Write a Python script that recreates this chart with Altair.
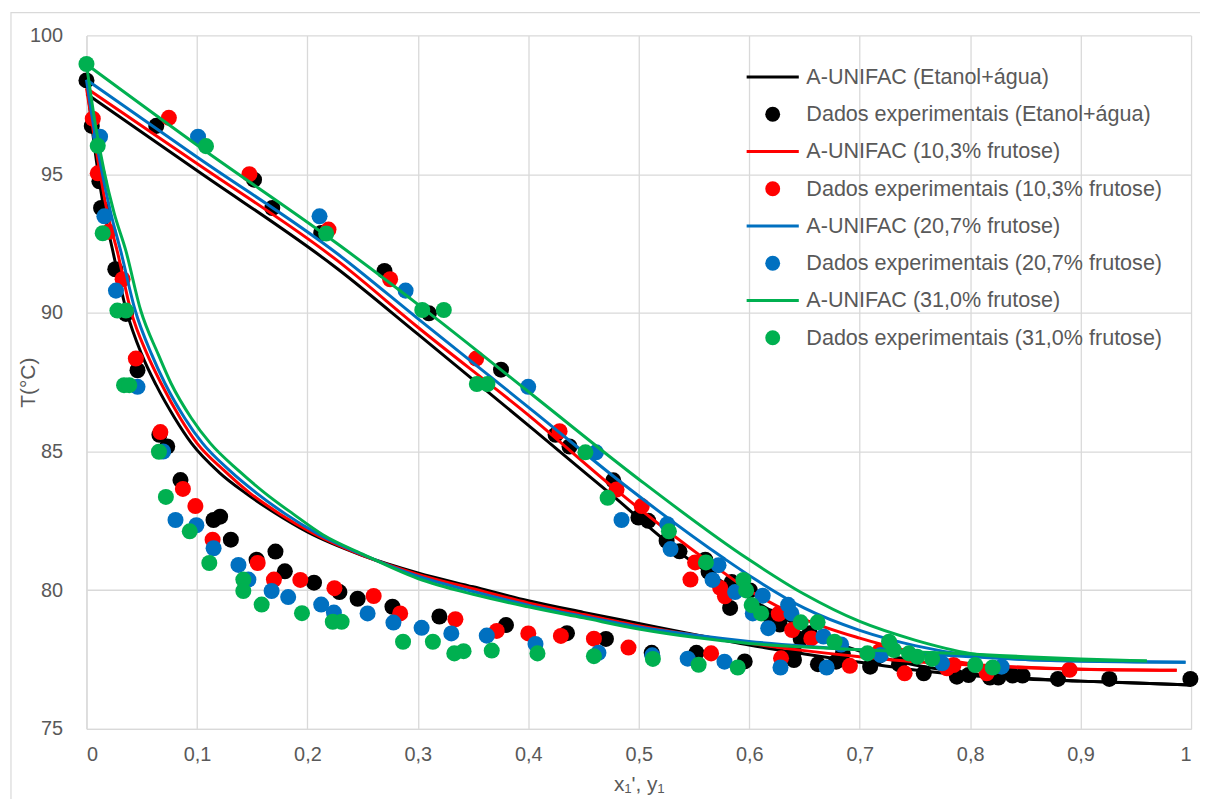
import altair as alt
import pandas as pd

# ---------------- labels ----------------
LINE_NAMES = ["A-UNIFAC (Etanol+água)", "A-UNIFAC (10,3% frutose)",
              "A-UNIFAC (20,7% frutose)", "A-UNIFAC (31,0% frutose)"]
DOT_NAMES = ["Dados experimentais (Etanol+água)", "Dados experimentais (10,3% frutose)",
             "Dados experimentais (20,7% frutose)", "Dados experimentais (31,0% frutose)"]
COLORS = ["#000000", "#ff0000", "#0070c0", "#00b050"]

x_ticks = [0, 0.1, 0.2, 0.3, 0.4, 0.5, 0.6, 0.7, 0.8, 0.9, 1.0]
y_ticks = [75, 80, 85, 90, 95, 100]

# ---------------- model curves (A-UNIFAC) ----------------
# bubble branch (T vs x1')
bub_x_0 = [0, 0.005, 0.01, 0.016, 0.024, 0.036, 0.05, 0.063, 0.08, 0.095, 0.12, 0.144, 0.17, 0.2, 0.25, 0.3, 0.35, 0.4, 0.45, 0.5, 0.55, 0.6, 0.65, 0.7, 0.75, 0.8, 0.85, 0.9, 0.95, 1.0]
bub_T_0 = [98.4, 96.7, 95.2, 93.7, 92.2, 90.1, 88.5, 87.4, 86.2, 85.3, 84.25, 83.5, 82.8, 82.1, 81.25, 80.62, 80.12, 79.62, 79.2, 78.8, 78.4, 78.02, 77.7, 77.4, 77.12, 76.92, 76.8, 76.72, 76.65, 76.58]
bub_x_1 = [0, 0.006, 0.012, 0.019, 0.028, 0.04, 0.055, 0.0675, 0.085, 0.1, 0.125, 0.148, 0.175, 0.205, 0.25, 0.3, 0.35, 0.4, 0.45, 0.5, 0.55, 0.6, 0.65, 0.7, 0.75, 0.8, 0.85, 0.9, 0.95, 0.987]
bub_T_1 = [98.1, 96.6, 95.1, 93.6, 92.2, 90.1, 88.5, 87.46, 86.2, 85.3, 84.3, 83.5, 82.75, 82.05, 81.25, 80.57, 80.05, 79.54, 79.12, 78.72, 78.38, 78.08, 77.82, 77.6, 77.42, 77.3, 77.2, 77.15, 77.12, 77.11]
bub_x_2 = [0, 0.007, 0.014, 0.022, 0.031, 0.044, 0.059, 0.071, 0.089, 0.105, 0.13, 0.154, 0.18, 0.21, 0.25, 0.3, 0.35, 0.4, 0.45, 0.5, 0.55, 0.6, 0.65, 0.7, 0.75, 0.8, 0.85, 0.9, 0.95, 0.995]
bub_T_2 = [98.4, 96.6, 95.1, 93.6, 92.23, 90.1, 88.5, 87.46, 86.2, 85.3, 84.3, 83.5, 82.75, 82.02, 81.28, 80.5, 79.95, 79.46, 79.05, 78.67, 78.38, 78.15, 77.98, 77.85, 77.72, 77.6, 77.5, 77.45, 77.42, 77.4]
bub_x_3 = [0, 0.008, 0.016, 0.025, 0.0357, 0.049, 0.065, 0.0765, 0.095, 0.112, 0.138, 0.1616, 0.187, 0.214, 0.25, 0.3, 0.35, 0.4, 0.45, 0.5, 0.55, 0.6, 0.65, 0.7, 0.75, 0.8, 0.85, 0.9, 0.96]
bub_T_3 = [98.96, 96.8, 95.1, 93.6, 92.23, 90.1, 88.5, 87.46, 86.2, 85.3, 84.3, 83.5, 82.75, 82.0, 81.3, 80.42, 79.85, 79.4, 79.0, 78.6, 78.3, 78.08, 77.95, 77.85, 77.77, 77.7, 77.6, 77.52, 77.45]

# dew branch (T vs y1)
dew_x_0 = [0, 0.1, 0.2275, 0.3, 0.405, 0.475, 0.545, 0.605, 0.65, 0.7, 0.75, 0.8, 0.85, 0.9, 0.95, 1.0]
dew_T_0 = [97.9, 95.13, 91.58, 89.23, 85.78, 83.45, 81.12, 79.6, 78.6, 77.8, 77.3, 77.0, 76.82, 76.72, 76.65, 76.58]
dew_x_1 = [0, 0.1, 0.2275, 0.3, 0.405, 0.48, 0.56, 0.605, 0.65, 0.7, 0.75, 0.8, 0.85, 0.9, 0.95, 0.987]
dew_T_1 = [98.1, 95.38, 91.87, 89.48, 86.15, 83.6, 81.12, 79.87, 78.95, 78.27, 77.75, 77.35, 77.22, 77.15, 77.12, 77.11]
dew_x_2 = [0, 0.1, 0.2275, 0.3, 0.405, 0.49, 0.578, 0.605, 0.65, 0.7, 0.75, 0.8, 0.85, 0.9, 0.95, 0.995]
dew_T_2 = [98.4, 95.62, 92.12, 89.79, 86.44, 83.7, 81.12, 80.4, 79.35, 78.55, 78.0, 77.65, 77.5, 77.44, 77.41, 77.4]
dew_x_3 = [0, 0.1, 0.2275, 0.31, 0.405, 0.5, 0.599, 0.65, 0.7, 0.75, 0.8, 0.85, 0.9, 0.96]
dew_T_3 = [98.96, 96.05, 92.48, 90.0, 87.0, 84.0, 81.12, 79.85, 78.87, 78.2, 77.72, 77.55, 77.47, 77.45]

# ---------------- experimental data ----------------
exp_x_0 = [0, 0.0048, 0.0117, 0.0132, 0.0261, 0.0357, 0.0462, 0.066, 0.0731, 0.0851, 0.115, 0.121, 0.1307, 0.154, 0.1711, 0.1796, 0.206, 0.229, 0.2455, 0.277, 0.3195, 0.3798, 0.435, 0.4703, 0.5117, 0.5522, 0.5959, 0.6405, 0.6405, 0.6622, 0.6787, 0.6847, 0.7095, 0.7161, 0.7356, 0.758, 0.788, 0.7986, 0.818, 0.8255, 0.8384, 0.8474, 0.8795, 0.926, 0.9994,
           0.0632, 0.1517, 0.1682, 0.2125, 0.2698, 0.31, 0.3753, 0.4247, 0.4373, 0.4769, 0.4997, 0.5086, 0.5252, 0.5369, 0.5602, 0.5632, 0.5842, 0.5827, 0.6007, 0.6187, 0.6277, 0.6466, 0.6547]
exp_T_0 = [98.38, 96.74, 94.74, 93.78, 91.57, 89.96, 87.93, 85.6, 85.18, 83.97, 82.53, 82.65, 81.82, 81.1, 81.39, 80.68, 80.27, 79.93, 79.69, 79.4, 79.05, 78.74, 78.45, 78.24, 77.74, 77.74, 77.43, 77.48, 77.78, 77.33, 77.42, 77.72, 77.24, 77.6, 77.33, 77.0, 76.88, 76.94, 76.85, 76.85, 76.92, 76.92, 76.8, 76.8, 76.8,
           96.74, 94.8, 93.78, 92.88, 91.51, 89.98, 87.95, 85.6, 85.18, 83.96, 82.62, 82.5, 81.78, 81.4, 81.1, 80.66, 80.29, 79.36, 79.99, 79.05, 78.76, 78.24, 78.45]
exp_x_1 = [0.0057, 0.0102, 0.02, 0.0327, 0.0447, 0.0669, 0.0873, 0.0986, 0.1142, 0.155, 0.1697, 0.1936, 0.2245, 0.26, 0.284, 0.334, 0.3714, 0.4, 0.4295, 0.4594, 0.4907, 0.5655, 0.6288, 0.6911, 0.7407, 0.779, 0.785, 0.815, 0.89,
           0.0746, 0.1475, 0.2191, 0.2749, 0.3528, 0.4283, 0.4799, 0.5027, 0.551, 0.5468, 0.5737, 0.578, 0.6268, 0.6388, 0.6562, 0.718]
exp_T_1 = [97.0, 95.03, 92.92, 91.21, 88.35, 85.7, 83.65, 83.03, 81.82, 80.98, 80.38, 80.37, 80.07, 79.79, 79.16, 78.95, 78.53, 78.44, 78.35, 78.25, 77.93, 77.72, 77.54, 77.27, 77.0, 77.18, 77.3, 77.0, 77.13,
           97.03, 95.0, 93.0, 91.21, 88.35, 85.73, 83.63, 83.03, 81.0, 80.38, 80.08, 79.78, 79.15, 78.56, 78.26, 77.8]
exp_x_2 = [0.0123, 0.0162, 0.0267, 0.0462, 0.0694, 0.0806, 0.0995, 0.1151, 0.1376, 0.1466, 0.1676, 0.1826, 0.2125, 0.224, 0.2545, 0.2779, 0.3034, 0.3303, 0.3624, 0.4065, 0.4635, 0.5122, 0.5443, 0.5776, 0.6283, 0.6701, 0.7191, 0.7746, 0.8285,
           0.101, 0.211, 0.2889, 0.3999, 0.4613, 0.4844, 0.5258, 0.5288, 0.5722, 0.5668, 0.5872, 0.6122, 0.6032, 0.6172, 0.6352, 0.6382, 0.6672, 0.6832]
exp_T_2 = [96.35, 93.48, 90.8, 87.33, 85.0, 82.53, 82.34, 81.51, 80.91, 80.38, 79.97, 79.75, 79.48, 79.19, 79.16, 78.83, 78.64, 78.44, 78.36, 78.06, 77.74, 77.65, 77.53, 77.42, 77.21, 77.21, 77.66, 77.36, 77.24,
           96.35, 93.48, 90.8, 87.33, 84.97, 82.53, 82.38, 81.48, 80.9, 80.37, 79.93, 79.8, 79.16, 78.63, 79.47, 79.16, 78.33, 78.04]
exp_x_3 = [0, 0.0102, 0.0147, 0.028, 0.0357, 0.034, 0.0387, 0.0656, 0.0719, 0.0935, 0.1112, 0.142, 0.142, 0.1586, 0.1951, 0.223, 0.231, 0.2866, 0.3136, 0.333, 0.3414, 0.3669, 0.4083, 0.4594, 0.5128, 0.5542, 0.5896, 0.707, 0.731, 0.7446, 0.752, 0.7656, 0.8046, 0.8204,
           0.1082, 0.217, 0.304, 0.3235, 0.3534, 0.363, 0.4517, 0.4718, 0.5273, 0.5608, 0.5947, 0.5972, 0.6022, 0.6108, 0.6466, 0.6619, 0.6772, 0.7266]
exp_T_3 = [98.97, 96.02, 92.87, 90.08, 90.08, 87.39, 87.39, 84.99, 83.36, 82.12, 80.98, 80.38, 79.97, 79.48, 79.17, 78.86, 78.86, 78.14, 78.14, 77.72, 77.8, 77.82, 77.72, 77.62, 77.52, 77.31, 77.21, 77.72, 77.84, 77.72, 77.6, 77.52, 77.3, 77.21,
           96.01, 92.86, 90.1, 90.1, 87.43, 87.43, 84.97, 83.33, 82.12, 81.0, 80.37, 79.99, 79.46, 79.16, 78.84, 78.84, 78.14, 78.14]

bub_x = [bub_x_0, bub_x_1, bub_x_2, bub_x_3]
bub_T = [bub_T_0, bub_T_1, bub_T_2, bub_T_3]
dew_x = [dew_x_0, dew_x_1, dew_x_2, dew_x_3]
dew_T = [dew_T_0, dew_T_1, dew_T_2, dew_T_3]
exp_x = [exp_x_0, exp_x_1, exp_x_2, exp_x_3]
exp_T = [exp_T_0, exp_T_1, exp_T_2, exp_T_3]

# ---------------- scales / legend ----------------
domain = []
color_range = []
shape_range = []
LINE_SYMBOL = "M-3.5,-0.2L3.5,-0.2L3.5,0.2L-3.5,0.2Z"
for i in range(4):
    domain += [LINE_NAMES[i], DOT_NAMES[i]]
    color_range += [COLORS[i], COLORS[i]]
    shape_range += [LINE_SYMBOL, "circle"]

color_scale = alt.Scale(domain=domain, range=color_range)
shape_scale = alt.Scale(domain=domain, range=shape_range)

FONT = "Liberation Sans"
TXT = "#595959"
GRID = "#d9d9d9"

legend = alt.Legend(
    title=None, orient="none", legendX=680, legendY=31,
    labelFont=FONT, labelFontSize=21.7, labelColor=TXT, labelOffset=23,
    symbolSize=225, rowPadding=14.5, padding=0, labelLimit=600,
    symbolStrokeWidth=0, symbolOpacity=1,
)

x_enc = alt.X("x:Q", scale=alt.Scale(domain=[0, 1], nice=False),
              axis=alt.Axis(values=x_ticks, title="x₁', y₁",
                            labelExpr="replace(format(datum.value, '.1~f'), '.', ',')",
                            labelPadding=16, titleY=62, titleBaseline="alphabetic"))
y_enc = alt.Y("T:Q", scale=alt.Scale(domain=[75, 100], nice=False, zero=False),
              axis=alt.Axis(values=y_ticks, title="T(°C)", labelPadding=24,
                            titleX=-52, titleY=349, titleAngle=-90,
                            titleAlign="center", titleBaseline="alphabetic"))

layers = []
frame = alt.Chart(pd.DataFrame({"a": [0]})).mark_rect(
    fill="white", fillOpacity=0, stroke=GRID, strokeWidth=1.2
).encode(x=alt.value(-76), x2=alt.value(1300), y=alt.value(-23), y2=alt.value(900))
layers.append(frame)

for i in range(4):
    rows = []
    for k, (xv, tv) in enumerate(zip(bub_x[i], bub_T[i])):
        rows.append({"x": xv, "T": tv, "branch": "bubble", "ord": k})
    for k, (xv, tv) in enumerate(zip(dew_x[i], dew_T[i])):
        rows.append({"x": xv, "T": tv, "branch": "dew", "ord": k})
    line = alt.Chart(pd.DataFrame(rows)).mark_line(
        strokeWidth=3, interpolate="monotone", color=COLORS[i]
    ).encode(x=x_enc, y=y_enc, detail="branch:N", order="ord:Q")
    pts = alt.Chart(pd.DataFrame({"x": exp_x[i], "T": exp_T[i], "series": DOT_NAMES[i]})).mark_point(
        filled=True, opacity=1, size=260
    ).encode(
        x=x_enc, y=y_enc,
        color=alt.Color("series:N", scale=color_scale, legend=legend),
        shape=alt.Shape("series:N", scale=shape_scale, legend=legend),
    )
    layers += [line, pts]

chart = alt.layer(*layers).properties(
    width=1112, height=698,
    autosize=alt.AutoSizeParams(type="none"),
    padding={"left": 79, "top": 25, "right": 9, "bottom": 68},
    background="white",
).configure_axis(
    grid=True, gridColor=GRID, gridWidth=1.3, domainColor=GRID, domainWidth=1.3,
    ticks=False, labelFont=FONT, labelFontSize=20, labelColor=TXT,
    titleFont=FONT, titleFontSize=21, titleColor=TXT, titleFontWeight="normal",
).configure_view(stroke=None)

chart.save("out.html", embed_options={"renderer": "svg", "actions": False})
